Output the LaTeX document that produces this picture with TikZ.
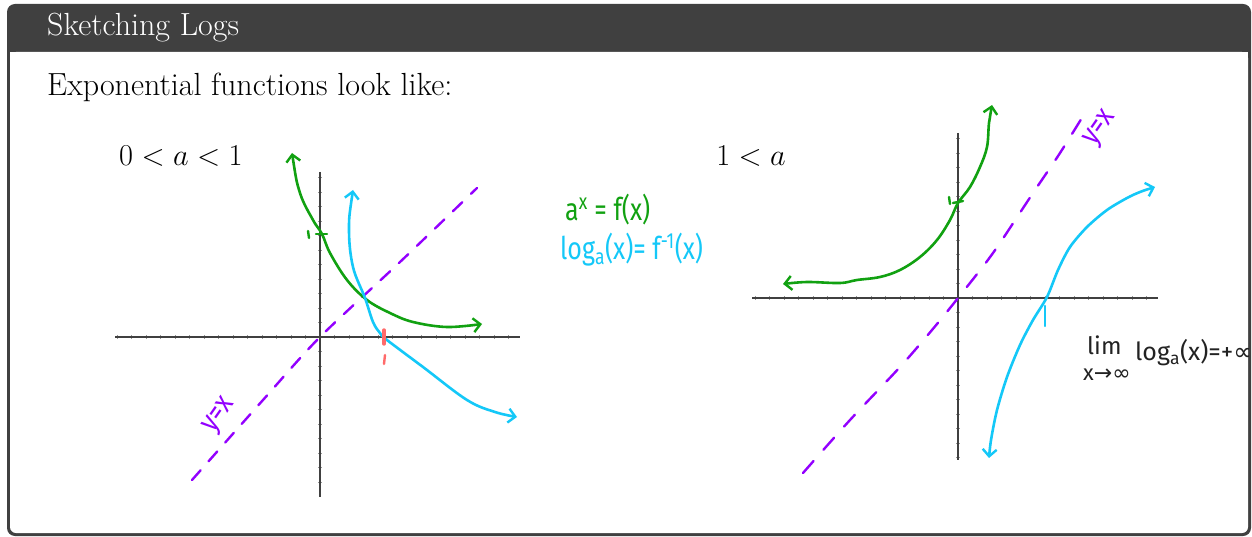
\documentclass[tikz,border=0pt]{standalone}
\usepackage{fontspec}
\newfontfamily\hand{Fira Sans}
\newfontfamily\sym{DejaVu Sans}
\usetikzlibrary{arrows.meta}
\definecolor{framegray}{HTML}{404040}
\definecolor{hgreen}{HTML}{11A111}
\definecolor{hblue}{HTML}{14C8F8}
\definecolor{hpurple}{HTML}{9300FF}
\definecolor{hred}{HTML}{FF6A6A}
\definecolor{hblack}{HTML}{222222}
\tikzset{
  axisline/.style={draw=framegray, line width=2.6pt},
  tickline/.style={draw=framegray!55, line width=0.7pt},
  curve/.style={line width=2.6pt, line cap=round, line join=round,
    arrows={Straight Barb[length=7pt,width=14pt,line width=2.4pt]-Straight Barb[length=7pt,width=14pt,line width=2.4pt]}},
  diag/.style={hpurple, line width=2.4pt, line cap=round, dash pattern=on 13pt off 12pt},
  mark1/.style={line width=2.4pt, line cap=round},
  handtxt/.style={font=\hand\fontsize{25}{28}\selectfont, inner sep=0pt},
  bodytxt/.style={font=\fontsize{32}{38}\selectfont, inner sep=0pt, anchor=base west},
  mathtxt/.style={font=\fontsize{24.88}{30}\selectfont, inner sep=0pt, anchor=base west, scale=1.22, transform shape}
}
\begin{document}
\begin{tikzpicture}[x=1pt,y=-1pt]
\useasboundingbox (0,0) rectangle (1252,537);
% frame
\fill[framegray, rounded corners=8pt] (7,4) rectangle (1251,536);
\fill[white, rounded corners=6pt] (10,52) rectangle (1248,533);
\fill[white] (10,52) rectangle (1248,70);
\node[bodytxt, text=white] (title) at (47,36) {Sketching Logs};
\begin{scope}
\clip (10,52) rectangle (1248,533);
\node[bodytxt] (intro) at (47,96) {Exponential functions look like:};
\node[mathtxt] (case1) at (119,166) {$0<a<1$};
\node[mathtxt] (case2) at (716,166) {$1<a$};

% ---------- left plot ----------
\foreach \i in {-14,...,-1,1,2,...,13} \draw[tickline] (320+14.5*\i,335) -- ++(0,4);
\foreach \i in {-11,...,-1,1,2,...,10} \draw[tickline] (318,337+14.5*\i) -- ++(4,0);
\draw[axisline] (115,337) -- (520,337);
\draw[axisline] (320,172) -- (320,497);
\draw[diag] plot[smooth, tension=0.5] coordinates {(192,480) (263,400) (320,337) (400,262) (477,188)};
\draw[curve, hgreen] plot[smooth, tension=0.6] coordinates {(292,153) (300,193) (313,220) (322,234) (330,253) (347,280) (367,300) (390,313) (413,322) (447,327) (482,324)};
\draw[curve, hblue] plot[smooth, tension=0.6] coordinates {(353,190) (349,230) (353,267) (365,298) (373,322) (380,333) (387,340) (423,367) (467,400) (495,412) (517,417)};
\draw[mark1, hgreen] (308,231) -- (309,238);
\draw[mark1, hgreen] (316,234) -- (327,234);
\draw[mark1, hred, line width=3.4pt] (384,330) -- (384,344);
\draw[mark1, hred] (385,355) -- (384,364);
\node[handtxt, text=hpurple, rotate=55, yscale=1.2] (yx1) at (220,416) {y=x};

% ---------- right plot ----------
\foreach \i in {-14,...,-1,1,2,...,13} \draw[tickline] (958+14.5*\i,296) -- ++(0,4);
\foreach \i in {-11,...,-1,1,2,...,11} \draw[tickline] (956,298+14.5*\i) -- ++(4,0);
\draw[axisline] (752,298) -- (1158,298);
\draw[axisline] (958,133) -- (958,460);
\draw[diag, dash pattern=on 16pt off 15pt] plot[smooth, tension=0.5] coordinates {(803,473) (850,420) (900,367) (932,330) (958,298) (993,253) (1033,193) (1060,153) (1088,108)};
\draw[curve, hgreen] plot[smooth, tension=0.6] coordinates {(992,105) (989,123) (987,147) (980,167) (970,187) (958,203) (950,220) (937,240) (920,257) (900,270) (880,277) (857,280) (840,283) (807,282) (783,284)};
\draw[curve, hblue] plot[smooth, tension=0.5] coordinates {(1155,187) (1140,192) (1127,198) (1107,210) (1087,227) (1070,247) (1058,270) (1047,297) (1033,320) (1020,345) (1007,377) (997,410) (991,440) (989,458)};
\draw[mark1, hgreen] (949,197) -- (950,204);
\draw[mark1, hgreen] (953,203) -- (963,201);
\draw[mark1, hblue] (1045,306) -- (1045,326);
\node[handtxt, text=hpurple, rotate=55, yscale=1.2] (yx2) at (1101,129) {y=x};

% ---------- annotations ----------
\node[handtxt, text=hgreen, anchor=west, yscale=1.25] (fx) at (565,210) {a\textsuperscript{x} = f(x)};
\node[handtxt, text=hblue, anchor=west, yscale=1.25] (finv) at (560,250) {log\textsubscript{a}(x)= f\textsuperscript{-1}(x)};
\node[handtxt, text=hblack, anchor=west, font=\hand\fontsize{24}{26}\selectfont] (lim) at (1087,345) {lim};
\node[handtxt, text=hblack, anchor=west, font=\hand\fontsize{22}{24}\selectfont] (limsub) at (1083,375) {x{\sym→}{\sym∞}};
\node[handtxt, text=hblack, anchor=west, font=\hand\fontsize{25}{27}\selectfont] (limval) at (1135,353) {log\textsubscript{a}(x)=+{\sym∞}};
\end{scope}
\end{tikzpicture}
\end{document}
